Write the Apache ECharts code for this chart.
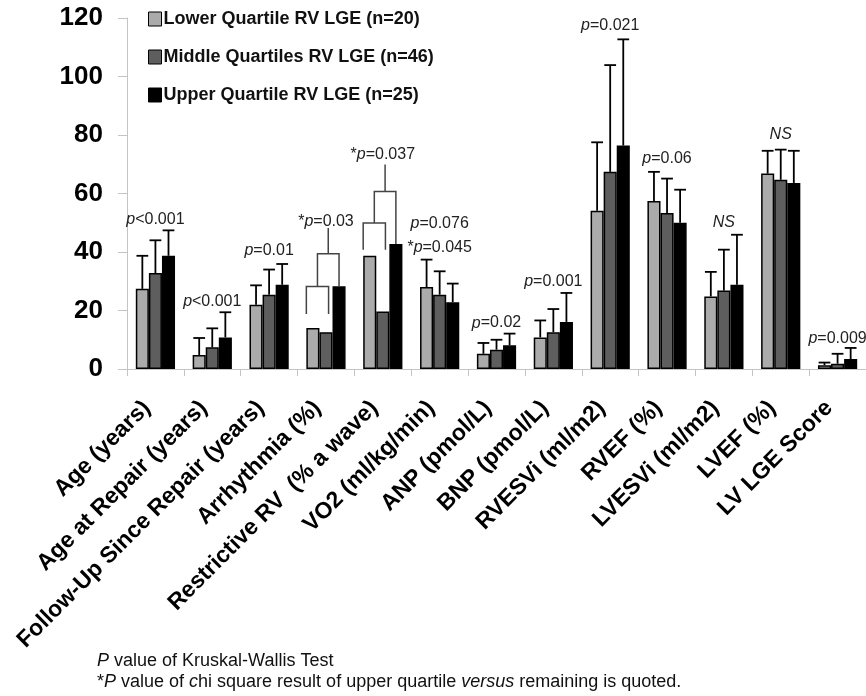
<!DOCTYPE html>
<html>
<head>
<meta charset="utf-8">
<script src="https://cdn.jsdelivr.net/npm/echarts@6/dist/echarts.min.js"></script>
<style>
  html, body { margin: 0; padding: 0; background: #fff; }
  #chart { width: 866px; height: 696px; }
</style>
</head>
<body>
<div id="chart"></div>
<script>
"use strict";

// categories (x axis)
var categories = ['Age (years)', 'Age at Repair (years)', 'Follow-Up Since Repair (years)',
  'Arrhythmia (%)', 'Restrictive RV  (% a wave)', 'VO2 (ml/kg/min)', 'ANP (pmol/L)',
  'BNP (pmol/L)', 'RVESVi (ml/m2)', 'RVEF (%)', 'LVESVi (ml/m2)', 'LVEF (%)', 'LV LGE Score'];

var seriesNames = ['Lower Quartile RV LGE (n=20)', 'Middle Quartiles RV LGE (n=46)', 'Upper Quartile RV LGE (n=25)'];

// bar values
var lowerVals  = [27.4, 4.8, 22.0, 14.0, 38.7, 28.0, 5.2, 10.8, 54.1, 57.4, 24.8, 66.8, 1.3];
var middleVals = [32.8, 7.4, 25.4, 12.6, 19.7, 25.4, 6.6, 12.6, 67.4, 53.3, 26.8, 64.7, 1.8];
var upperVals  = [38.7, 10.8, 28.8, 28.3, 42.7, 22.8, 8.1, 16.1, 76.4, 50.0, 28.8, 63.6, 3.4];

// top of error bars (null = no error bar)
var lowerErr  = [38.7, 10.6, 28.6, null, null, 37.4, 8.9, 16.6, 77.5, 67.4, 33.2, 74.6, 2.2];
var middleErr = [44.0, 13.9, 34.0, null, null, 33.4, 10.0, 20.5, 103.9, 65.1, 40.8, 75.0, 5.2];
var upperErr  = [47.4, 19.4, 35.9, null, null, 29.2, 12.1, 26.0, 112.7, 61.3, 45.9, 74.6, 7.2];

// p value annotations
var pTexts  = ['{i|p}<0.001', '{i|p}<0.001', '{i|p}=0.01', '*{i|p}=0.03', '*{i|p}=0.037',
  '{i|p}=0.076', '*{i|p}=0.045', '{i|p}=0.02', '{i|p}=0.001', '{i|p}=0.021', '{i|p}=0.06',
  '{i|NS}', '{i|NS}', '{i|p}=0.009'];
var pCats   = [0, 1, 2, 3, 4, 5, 5, 6, 7, 8, 9, 10, 11, 12];
var pLevels = [51.0, 23.1, 40.5, 50.5, 73.3, 49.7, 41.4, 15.7, 30.0, 117.4, 72.1, 49.9, 80.1, 10.3];

// chi square brackets (Arrhythmia, Restrictive RV)
var bracketCats   = [3, 4];
var bracketLegEnd = [18.8, 40.8];
var bracketLow    = [28.2, 49.9];
var bracketHigh   = [39.4, 60.7];
var bracketTop    = [48.2, 69.9];

var yTicks = { min: 0, max: 120, interval: 20 };

var FONT = 'Liberation Sans, Arial, sans-serif';
var BAR_W = 0.23;

function errData(err, vals) {
  var out = [];
  for (var i = 0; i < err.length; i++) {
    if (err[i] !== null) out.push([i, err[i], vals[i]]);
  }
  return out;
}

function errRender(k) {
  return function (params, api) {
    var cat = api.value(0);
    var b = api.coord([cat, api.value(2)]);
    var t = api.coord([cat, api.value(1)]);
    var bw = api.size([1, 0])[0] * BAR_W;
    var x = b[0] + k * bw;
    var cap = bw * 0.45;
    var st = { stroke: '#000', lineWidth: 1.8 };
    return {
      type: 'group',
      children: [
        { type: 'line', shape: { x1: x, y1: b[1], x2: x, y2: t[1] }, style: st },
        { type: 'line', shape: { x1: x - cap, y1: t[1], x2: x + cap, y2: t[1] }, style: st }
      ]
    };
  };
}

var bracketData = [];
for (var i = 0; i < bracketCats.length; i++) {
  var c = bracketCats[i];
  bracketData.push([c, bracketLegEnd[i], bracketLow[i], bracketHigh[i], bracketTop[i], upperVals[c]]);
}

var pData = [];
for (var i = 0; i < pTexts.length; i++) {
  pData.push([pCats[i], pLevels[i], i]);
}

var myChart = echarts.init(document.getElementById('chart'), null, { renderer: 'canvas' });

var option = {
  animation: false,
  backgroundColor: '#fff',
  grid: { left: 127, right: 0, top: 18, bottom: 327 },
  legend: {
    data: seriesNames,
    orient: 'vertical',
    left: 143,
    top: 5,
    itemWidth: 13,
    itemHeight: 14,
    itemGap: 20,
    icon: 'rect',
    itemStyle: { borderColor: '#000', borderWidth: 1 },
    textStyle: { fontFamily: FONT, fontWeight: 'bold', fontSize: 18, color: '#111', padding: [0, 0, 0, -3] }
  },
  xAxis: {
    type: 'category',
    data: categories,
    axisLine: { lineStyle: { color: '#c4c4c4', width: 1 } },
    axisTick: { show: true, length: 7, lineStyle: { color: '#c4c4c4' } },
    axisLabel: {
      interval: 0, rotate: 45, margin: 27, padding: [0, 12, 0, 0],
      fontFamily: FONT, fontWeight: 'bold', fontSize: 23, color: '#000'
    }
  },
  yAxis: {
    type: 'value',
    min: yTicks.min, max: yTicks.max, interval: yTicks.interval,
    splitLine: { show: false },
    axisLine: { show: true, lineStyle: { color: '#c4c4c4', width: 1 } },
    axisTick: { show: true, length: 9, lineStyle: { color: '#c4c4c4' } },
    axisLabel: { margin: 24, fontFamily: FONT, fontWeight: 'bold', fontSize: 26, color: '#000' }
  },
  series: [
    {
      name: seriesNames[0], type: 'bar', data: lowerVals,
      barWidth: '23%', barGap: '0%',
      itemStyle: { color: '#ababab', borderColor: '#000', borderWidth: 1.5 }
    },
    {
      name: seriesNames[1], type: 'bar', data: middleVals,
      barWidth: '23%', barGap: '0%',
      itemStyle: { color: '#5e5e5e', borderColor: '#000', borderWidth: 1.5 }
    },
    {
      name: seriesNames[2], type: 'bar', data: upperVals,
      barWidth: '23%', barGap: '0%',
      itemStyle: { color: '#000', borderColor: '#000', borderWidth: 1.5 }
    },
    { type: 'custom', renderItem: errRender(-1), data: errData(lowerErr, lowerVals), z: 3 },
    { type: 'custom', renderItem: errRender(0), data: errData(middleErr, middleVals), z: 3 },
    { type: 'custom', renderItem: errRender(1), data: errData(upperErr, upperVals), z: 3 },
    {
      type: 'custom', z: 3,
      data: bracketData,
      renderItem: function (params, api) {
        var cat = api.value(0);
        var bw = api.size([1, 0])[0] * BAR_W;
        var cx = api.coord([cat, 0])[0];
        function y(v) { return api.coord([cat, v])[1]; }
        var L = cx - 1.5 * bw, R = cx + 0.2 * bw, M = (L + R) / 2, U = cx + 1.0 * bw, S = (M + U) / 2;
        var st = { stroke: '#444', lineWidth: 1.5, fill: null };
        return {
          type: 'group',
          children: [
            { type: 'polyline', shape: { points: [[L, y(api.value(1))], [L, y(api.value(2))], [R, y(api.value(2))], [R, y(api.value(1))]] }, style: st },
            { type: 'polyline', shape: { points: [[M, y(api.value(2))], [M, y(api.value(3))], [U, y(api.value(3))], [U, y(api.value(5))]] }, style: st },
            { type: 'line', shape: { x1: S, y1: y(api.value(3)), x2: S, y2: y(api.value(4)) }, style: st }
          ]
        };
      }
    },
    {
      type: 'custom', z: 4,
      data: pData,
      renderItem: function (params, api) {
        var p = api.coord([api.value(0), api.value(1)]);
        return {
          type: 'text',
          x: p[0], y: p[1],
          style: {
            text: pTexts[api.value(2)],
            fontFamily: FONT, fontSize: 16, fill: '#222',
            align: 'center', verticalAlign: 'middle',
            rich: { i: { fontStyle: 'italic', fontFamily: FONT, fontSize: 16, fill: '#222' } }
          }
        };
      }
    }
  ],
  graphic: [
    {
      type: 'text', left: 97, top: 652,
      style: {
        text: '{i|P} value of Kruskal-Wallis Test',
        fontFamily: FONT, fontSize: 18, fill: '#111',
        rich: { i: { fontStyle: 'italic', fontFamily: FONT, fontSize: 18, fill: '#111' } }
      }
    },
    {
      type: 'text', left: 97, top: 673,
      style: {
        text: '*{i|P} value of {i|c}hi square result of upper quartile {i|versus} remaining is quoted.',
        fontFamily: FONT, fontSize: 18, fill: '#111',
        rich: { i: { fontStyle: 'italic', fontFamily: FONT, fontSize: 18, fill: '#111' } }
      }
    }
  ]
};

myChart.setOption(option);
</script>
</body>
</html>
